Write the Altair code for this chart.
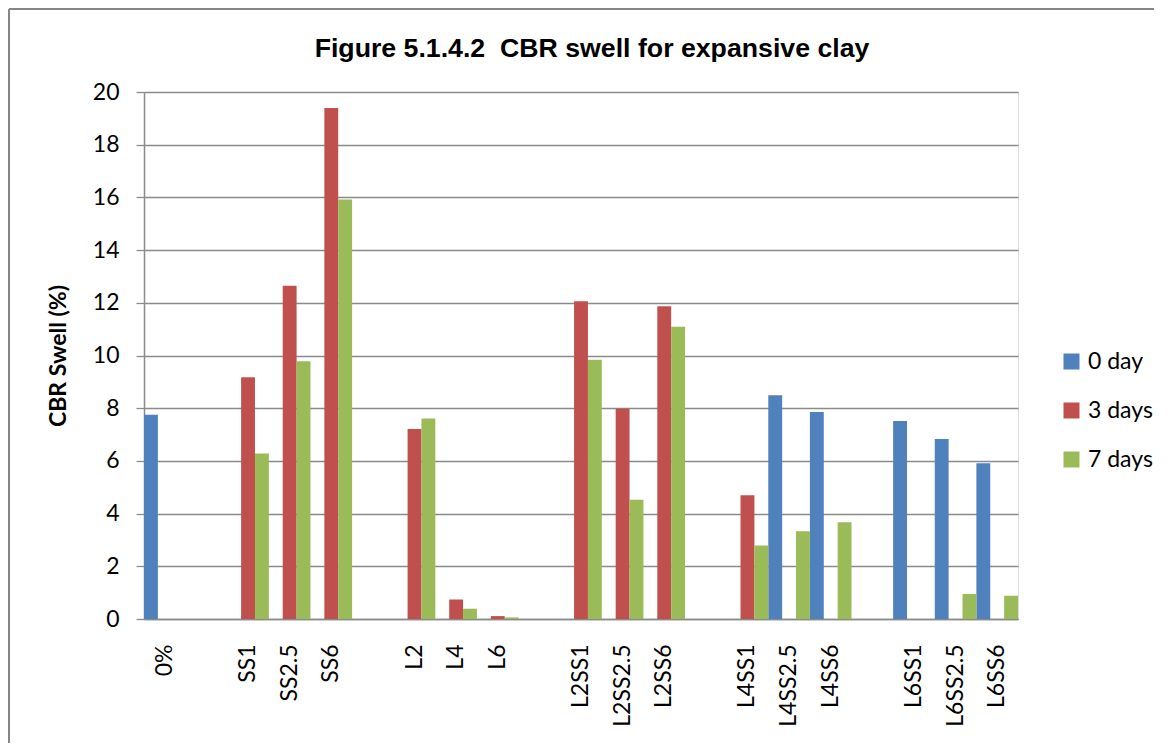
import altair as alt
import pandas as pd

categories = ["0%", " ", "SS1", "SS2.5", "SS6", "  ", "L2", "L4", "L6", "   ",
              "L2SS1", "L2SS2.5", "L2SS6", "    ", "L4SS1", "L4SS2.5", "L4SS6", "     ",
              "L6SS1", "L6SS2.5", "L6SS6"]
series = ["0 day", "3 days", "7 days"]
day0 = [7.75, None, None, None, None, None, None, None, None, None,
        None, None, None, None, None, 8.49, 7.86, None, 7.51, 6.83, 5.91]
day3 = [None, None, 9.17, 12.65, 19.39, None, 7.21, 0.74, 0.11, None,
        12.06, 7.98, 11.87, None, 4.70, None, None, None, None, None, None]
day7 = [None, None, 6.28, 9.78, 15.92, None, 7.61, 0.39, 0.06, None,
        9.84, 4.53, 11.09, None, 2.79, 3.33, 3.67, None, None, 0.95, 0.88]
colors = ["#4F81BD", "#C0504D", "#9BBB59"]
y_ticks = [0, 2, 4, 6, 8, 10, 12, 14, 16, 18, 20]
title_text = "Figure 5.1.4.2 \u00a0CBR swell for expansive clay"

rows = []
for s, vals in zip(series, [day0, day3, day7]):
    for c, v in zip(categories, vals):
        if v is not None:
            rows.append({"category": c, "series": s, "value": v})
df = pd.DataFrame(rows)

GRAY = "#8a8a8a"
FONT = "Lato"

bars = alt.Chart(df).mark_bar().encode(
    x=alt.X("category:N",
            scale=alt.Scale(domain=categories, paddingInner=0, paddingOuter=0),
            axis=alt.Axis(title=None, labelAngle=-90, ticks=False, labelPadding=25,
                          labelFont=FONT, labelFontSize=23, labelColor="#000000",
                          domainColor=GRAY, domainWidth=1.5, grid=False)),
    xOffset=alt.XOffset("series:N",
                        scale=alt.Scale(domain=series, paddingInner=0, paddingOuter=0)),
    y=alt.Y("value:Q",
            scale=alt.Scale(domain=[0, 20], nice=False),
            axis=alt.Axis(values=y_ticks, title="CBR Swell (%)",
                          titleFont=FONT, titleFontWeight="bold", titleFontSize=23,
                          titleColor="#000000", titlePadding=22,
                          labelFont=FONT, labelFontSize=23, labelColor="#000000",
                          labelPadding=17, tickSize=8, tickColor=GRAY, tickWidth=1.3,
                          domainColor=GRAY, domainWidth=1.5,
                          grid=True, gridColor=GRAY, gridWidth=1.3)),
    color=alt.Color("series:N",
                    scale=alt.Scale(domain=series, range=colors),
                    legend=alt.Legend(title=None, orient="none", legendX=916, legendY=258,
                                      symbolType="square", symbolSize=256,
                                      symbolStrokeWidth=0, labelFont=FONT,
                                      labelFontSize=23, labelColor="#000000",
                                      rowPadding=25, labelOffset=5, padding=0)),
)

one = alt.Data(values=[{"a": 1}])

frame = alt.Chart(one).mark_rule(color="#868686", strokeWidth=2).encode(
    x=alt.value(-135), x2=alt.value(1010), y=alt.value(-83))

frame_left = alt.Chart(one).mark_rule(color="#868686", strokeWidth=2).encode(
    x=alt.value(-135), y=alt.value(-83), y2=alt.value(660))

title = alt.Chart(one).mark_text(
    font="Liberation Sans", fontSize=26.7, fontWeight="bold", color="#000000",
    align="center", baseline="alphabetic"
).encode(x=alt.value(448), y=alt.value(-35), text=alt.value(title_text))

chart = alt.layer(bars, frame, frame_left, title).properties(
    width=874,
    height=527,
    autosize=alt.AutoSizeParams(type="none"),
    padding={"left": 136, "top": 84, "right": 137, "bottom": 124},
).configure_view(stroke=None).configure(background="white")

chart.save("out.html", embed_options={"renderer": "svg", "actions": False})
